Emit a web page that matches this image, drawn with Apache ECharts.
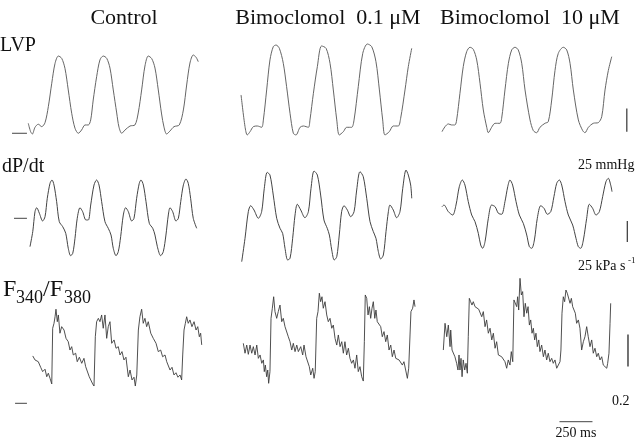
<!DOCTYPE html>
<html><head><meta charset="utf-8">
<script src="https://cdn.jsdelivr.net/npm/echarts/dist/echarts.min.js"></script>
<style>html,body{margin:0;padding:0;background:#fff}#c{width:640px;height:439px}</style>
</head><body><div id="c"></div>
<script>
// Column and row titles
const columnTitles = ['Control', 'Bimoclomol  0.1 \u03bcM', 'Bimoclomol  10 \u03bcM'];
const rowTitles = ['LVP', 'dP/dt'];
// Traces: [time ms, value]; LVP in mmHg, dP/dt in kPa s-1, F340/F380 ratio (relative to marker)
const lvpControl = [[2,10.7],[20,1.7],[33,-0.8],[53,6.4],[78,9.7],[104,7.1],[129,11.4],[154,28.5],[180,53.7],[205,75.1],[230,82.9],[255,80.5],[280,69.7],[305,46.5],[331,21.5],[356,5.4],[381,0],[406,3.5],[432,8.9],[457,8.9],[475,14.3],[494,35.7],[520,60.7],[545,78.7],[570,82.9],[596,80.5],[621,70],[646,46.5],[672,21.8],[689,6.8],[710,0],[735,3.5],[773,7.8],[810,8.9],[835,21.8],[861,46.5],[886,72.2],[911,82.9],[937,80.2],[962,70],[987,46.5],[1012,20.7],[1030,6.8],[1050,-0.8],[1076,2.5],[1106,7.1],[1146,8.9],[1177,25],[1202,51.8],[1227,75.4],[1252,84],[1273,81.6],[1290,76.8]];
const lvpBimo01 = [[8,41.1],[38,7.1],[55,-1.8],[76,1.7],[101,7.1],[131,7.8],[164,6.4],[177,14.3],[202,46.5],[227,78.7],[252,92.9],[273,94.7],[298,91.2],[328,75.1],[353,50],[379,21.5],[404,0],[424,-1.8],[455,6.4],[480,7.8],[518,6.4],[530,14.3],[556,42.9],[586,71.5],[618,93.7],[652,91.2],[682,75.1],[707,46.5],[733,14.3],[752,-1.8],[783,1.7],[808,6.4],[846,6.4],[864,14.3],[896,50],[930,85.8],[965,95.8],[998,92.9],[1030,76.8],[1056,46.5],[1081,14.3],[1098,-1.8],[1131,1.7],[1161,7.8],[1199,7.8],[1217,16.1],[1250,46.5],[1275,71.5],[1301,91.2]];
const lvpBimo10 = [[0,1.7],[23,7.1],[48,10],[73,8.9],[98,8.9],[111,14.3],[136,42.9],[161,71.5],[187,87.6],[212,92.3],[237,90.1],[263,78.7],[288,53.7],[313,25],[339,6.4],[351,0.6],[376,6.4],[402,10.7],[439,10.7],[452,16.1],[477,46.5],[503,75.1],[528,89.4],[553,92.3],[578,89.4],[604,75.1],[629,46.5],[667,14.3],[692,2.8],[717,0.6],[742,6.4],[780,10.7],[805,12.4],[831,35.7],[856,67.3],[881,85.8],[919,92.3],[945,89.4],[970,75.1],[995,46.5],[1033,14.3],[1066,2.8],[1083,0.6],[1109,6.4],[1146,10.7],[1184,11.4],[1210,17.8],[1235,46.5],[1260,67.3],[1286,82.2]];
const dpdtControl = [[15,-33.8],[36,-15.9],[53,7.9],[66,12.6],[86,6],[111,-3.2],[129,1.9],[146,23.8],[167,41.7],[182,45.6],[197,39.6],[217,19.8],[237,-4],[263,-10],[286,-17.9],[305,-35.7],[323,-44.5],[339,-41.7],[356,-23.8],[373,0],[394,12.6],[414,7.9],[439,-2],[457,-2],[475,15.8],[500,39.6],[520,45.6],[538,39.6],[558,19.8],[583,-4],[608,-11.9],[629,-19.9],[646,-35.7],[667,-44.5],[684,-39.7],[702,-21.9],[722,3.9],[740,12.6],[760,7.9],[786,-3.2],[803,0],[823,23.8],[843,41.7],[856,45.6],[874,39.6],[894,19.8],[919,-6],[945,-11.9],[962,-19.9],[980,-33.8],[1005,-44.5],[1025,-39.7],[1045,-19.9],[1063,3.9],[1076,12.6],[1096,7.9],[1121,-3.2],[1139,0],[1157,19.8],[1177,39.6],[1197,46.8],[1214,41.7],[1232,23.8],[1252,0],[1278,-11.9]];
const dpdtBimo01 = [[13,-51.6],[38,-23.8],[63,7.9],[81,15],[106,9.9],[139,0],[164,7.9],[184,35.7],[206,54.7],[227,51.5],[252,27.7],[278,0],[303,-11.9],[323,-17.9],[341,-35.7],[361,-49.6],[379,-47.6],[399,-23.8],[417,3.9],[434,16.7],[460,9.9],[492,0.7],[518,7.9],[538,35.7],[561,56.3],[586,51.5],[611,27.7],[636,-2],[661,-11.9],[677,-19.9],[695,-37.7],[714,-49.6],[733,-45.7],[752,-19.9],[770,7.9],[788,15],[813,9.9],[839,1.9],[864,7.9],[884,33.7],[909,55.5],[934,49.5],[960,23.8],[985,-4],[1010,-15.9],[1030,-23.8],[1048,-39.7],[1066,-48.4],[1086,-43.7],[1106,-15.9],[1124,7.9],[1136,15.8],[1161,9.9],[1187,0.7],[1212,7.9],[1233,35.7],[1258,57.5],[1275,51.5],[1293,39.6],[1301,23.8]];
const dpdtBimo10 = [[0,13.8],[15,15.8],[48,7.9],[81,3.9],[106,15.8],[131,37.6],[154,45.6],[174,39.6],[199,19.8],[225,3.9],[250,-4],[275,-17.9],[293,-31.8],[308,-35.7],[326,-27.8],[351,0],[376,15.8],[402,13.8],[427,6],[452,4.8],[477,19.8],[498,37.6],[515,45.6],[535,39.6],[561,19.8],[586,3.9],[616,-6],[642,-19.9],[662,-33.8],[680,-35.7],[700,-25.8],[722,0],[748,15],[773,11.9],[798,4.8],[824,7.9],[848,25.7],[869,41.7],[889,45.6],[907,39.6],[932,19.8],[957,3.9],[990,-8],[1015,-23.8],[1033,-33.8],[1051,-35.7],[1071,-25.8],[1096,0],[1116,16.7],[1141,11.9],[1167,3.9],[1192,7.9],[1217,25.7],[1242,43.6],[1260,47.6],[1278,39.6],[1288,31.7]];
const ratioControl = [[36,0.296],[53,0.271],[66,0.281],[78,0.260],[96,0.225],[111,0.198],[129,0.213],[142,0.166],[154,0.188],[167,0.156],[180,0.121],[187,0.469],[197,0.500],[205,0.541],[212,0.588],[222,0.510],[230,0.552],[242,0.438],[255,0.479],[273,0.458],[288,0.406],[305,0.385],[318,0.333],[331,0.354],[343,0.302],[361,0.313],[373,0.260],[389,0.288],[407,0.250],[424,0.281],[437,0.229],[452,0.219],[464,0.166],[475,0.177],[490,0.121],[500,0.108],[510,0.416],[520,0.510],[533,0.531],[545,0.510],[558,0.552],[570,0.469],[583,0.552],[596,0.406],[608,0.479],[621,0.510],[634,0.375],[652,0.396],[667,0.344],[684,0.354],[697,0.302],[712,0.323],[727,0.271],[742,0.288],[760,0.166],[773,0.208],[788,0.146],[803,0.163],[813,0.108],[824,0.177],[836,0.458],[848,0.541],[861,0.588],[873,0.500],[886,0.531],[899,0.479],[911,0.510],[930,0.438],[949,0.406],[970,0.375],[987,0.323],[1005,0.333],[1020,0.291],[1038,0.302],[1051,0.260],[1066,0.271],[1076,0.208],[1091,0.225],[1106,0.177],[1121,0.191],[1136,0.163],[1152,0.177],[1164,0.146],[1172,0.302],[1182,0.458],[1192,0.500],[1202,0.541],[1214,0.500],[1227,0.521],[1242,0.479],[1258,0.510],[1273,0.458],[1286,0.479],[1298,0.416],[1308,0.438],[1316,0.365]];
const ratioBimo01 = [[25,0.375],[38,0.313],[51,0.364],[63,0.306],[76,0.364],[89,0.313],[101,0.354],[114,0.302],[127,0.364],[139,0.281],[152,0.302],[165,0.250],[177,0.271],[184,0.198],[192,0.239],[202,0.166],[210,0.208],[217,0.125],[227,0.198],[235,0.531],[245,0.594],[255,0.666],[265,0.573],[278,0.531],[290,0.573],[303,0.614],[316,0.510],[328,0.531],[341,0.479],[354,0.489],[366,0.416],[379,0.385],[392,0.333],[404,0.375],[417,0.323],[430,0.364],[442,0.323],[460,0.354],[475,0.302],[485,0.364],[500,0.291],[513,0.281],[525,0.229],[536,0.177],[551,0.219],[561,0.156],[570,0.198],[581,0.531],[591,0.573],[601,0.688],[611,0.635],[621,0.666],[631,0.594],[644,0.635],[657,0.552],[669,0.510],[682,0.531],[695,0.469],[707,0.489],[720,0.406],[733,0.364],[745,0.427],[758,0.354],[771,0.385],[783,0.313],[795,0.385],[808,0.302],[821,0.344],[833,0.281],[846,0.250],[859,0.271],[871,0.219],[884,0.302],[896,0.198],[909,0.229],[922,0.166],[934,0.139],[942,0.385],[949,0.677],[960,0.656],[970,0.552],[980,0.604],[990,0.531],[1000,0.594],[1010,0.635],[1021,0.531],[1030,0.583],[1040,0.510],[1053,0.500],[1066,0.479],[1078,0.416],[1091,0.448],[1104,0.385],[1116,0.427],[1129,0.333],[1142,0.364],[1154,0.291],[1167,0.333],[1180,0.281],[1192,0.291],[1205,0.271],[1217,0.281],[1230,0.239],[1242,0.260],[1255,0.208],[1268,0.156],[1278,0.219],[1288,0.427],[1295,0.573],[1308,0.594],[1318,0.646],[1326,0.604]];
const ratioBimo10 = [[10,0.333],[23,0.500],[36,0.416],[48,0.489],[61,0.354],[66,0.458],[76,0.333],[86,0.344],[98,0.291],[111,0.250],[121,0.208],[129,0.302],[136,0.208],[144,0.281],[152,0.166],[161,0.271],[172,0.208],[182,0.250],[192,0.188],[199,0.416],[207,0.656],[217,0.635],[227,0.614],[237,0.635],[250,0.604],[263,0.614],[278,0.588],[288,0.594],[301,0.541],[313,0.573],[326,0.479],[338,0.521],[351,0.438],[364,0.469],[377,0.396],[389,0.438],[402,0.344],[414,0.385],[427,0.302],[439,0.313],[452,0.291],[464,0.302],[477,0.260],[490,0.219],[502,0.271],[515,0.239],[525,0.323],[536,0.260],[545,0.646],[555,0.656],[566,0.604],[573,0.666],[581,0.583],[591,0.781],[601,0.677],[611,0.698],[621,0.541],[631,0.625],[642,0.563],[652,0.604],[662,0.489],[672,0.521],[682,0.438],[692,0.469],[702,0.396],[712,0.438],[722,0.354],[733,0.396],[742,0.323],[755,0.364],[768,0.291],[780,0.333],[793,0.271],[805,0.313],[818,0.260],[831,0.281],[843,0.250],[856,0.271],[869,0.219],[881,0.229],[894,0.260],[901,0.333],[909,0.563],[919,0.666],[929,0.635],[939,0.708],[949,0.688],[960,0.698],[970,0.625],[980,0.656],[990,0.604],[1000,0.614],[1010,0.563],[1020,0.500],[1033,0.521],[1045,0.469],[1058,0.333],[1071,0.385],[1083,0.416],[1096,0.479],[1108,0.416],[1121,0.354],[1134,0.396],[1146,0.313],[1159,0.344],[1172,0.291],[1184,0.313],[1197,0.271],[1210,0.291],[1222,0.239],[1235,0.250],[1248,0.219],[1255,0.250],[1265,0.313],[1273,0.500],[1278,0.625]];
// Calibration bars and zero markers (values in data units)
const lvpScaleBar = [[1400,1.7],[1400,26.7]];
const dpdtScaleBar = [[1404,-28.2],[1404,-3.2]];
const ratioScaleBar = [[1409,0.23],[1409,0.43]];
const timeScaleBar = [[890,-0.115],[1140,-0.115]];
const lvpMarker = [[-121,0],[-8,0]];
const dpdtMarker = [[-106,0],[-8,0]];
const ratioMarker = [[-98,0],[-8,0]];

const chart = echarts.init(document.getElementById('c'), null, {renderer:'canvas'});
const colLeft = [1.6, 213.6, 415.6];
const gridW = 217.8;
const rowCfg = [
  {top:40.1, height:111.8, min:-20, max:100},
  {top:167.9, height:100.8, min:-60, max:60},
  {top:267.3, height:168, min:-0.2, max:0.85}
];
const traces = [
  [lvpControl, lvpBimo01, lvpBimo10],
  [dpdtControl, dpdtBimo01, dpdtBimo10],
  [ratioControl, ratioBimo01, ratioBimo10]
];
const rowStyle = [
  {color:'#666', width:1},
  {color:'#444', width:1},
  {color:'#3c3c3c', width:0.9}
];
const grids = [], xAxes = [], yAxes = [], series = [];
let gi = 0; const gidx = {};
for (let r = 0; r < 3; r++) {
  for (let c = 0; c < 3; c++) {
    grids.push({left: colLeft[c], top: rowCfg[r].top, width: gridW, height: rowCfg[r].height, outerBoundsMode:'none', containLabel:false});
    xAxes.push({type:'value', gridIndex:gi, min:-200, max:1450, show:false});
    yAxes.push({type:'value', gridIndex:gi, min:rowCfg[r].min, max:rowCfg[r].max, show:false});
    series.push({type:'line', xAxisIndex:gi, yAxisIndex:gi, data:traces[r][c], showSymbol:false, smooth: r < 2 ? 0.3 : false,
      lineStyle:rowStyle[r], clip:false, silent:true});
    gidx[r+'_'+c] = gi; gi++;
  }
}
function bar(data, r, c, w) {
  const g = gidx[r+'_'+c];
  series.push({type:'line', xAxisIndex:g, yAxisIndex:g, data:data, showSymbol:false, lineStyle:{color:'#444', width:w||1.3}, clip:false, silent:true});
}
bar(lvpScaleBar, 0, 2); bar(dpdtScaleBar, 1, 2); bar(ratioScaleBar, 2, 2, 1.5); bar(timeScaleBar, 2, 2, 1);
bar(lvpMarker, 0, 0, 1); bar(dpdtMarker, 1, 0, 1); bar(ratioMarker, 2, 0, 1);

const serif = '"Liberation Serif","DejaVu Serif",serif';
function txt(t, x, y, size, align) {
  return {type:'text', x:x, y:y, silent:true, style:{text:t, font: size + 'px ' + serif, fill:'#111', align: align||'left', verticalAlign:'middle', textAlign: align||'left', textVerticalAlign:'middle'}};
}
const graphics = [
  txt(columnTitles[0], 124, 18, 22, 'center'),
  txt(columnTitles[1], 328, 18, 22, 'center'),
  txt(columnTitles[2], 530, 18, 22, 'center'),
  txt(rowTitles[0], 0, 46, 20),
  txt(rowTitles[1], 2, 167, 20),
  txt('F', 3, 290, 24),
  txt('340', 16, 298, 18),
  txt('/F', 43, 290, 24),
  txt('380', 64, 298, 18),
  txt('25 mmHg', 578, 165, 14),
  txt('25 kPa s', 578, 266, 14),
  txt('-1', 628, 261, 9),
  txt('0.2', 612, 401, 14),
  txt('250 ms', 576, 433, 14, 'center')
];
chart.setOption({animation:false, backgroundColor:'#fff', grid:grids, xAxis:xAxes, yAxis:yAxes, series:series, graphic:{elements:graphics}});
</script></body></html>
